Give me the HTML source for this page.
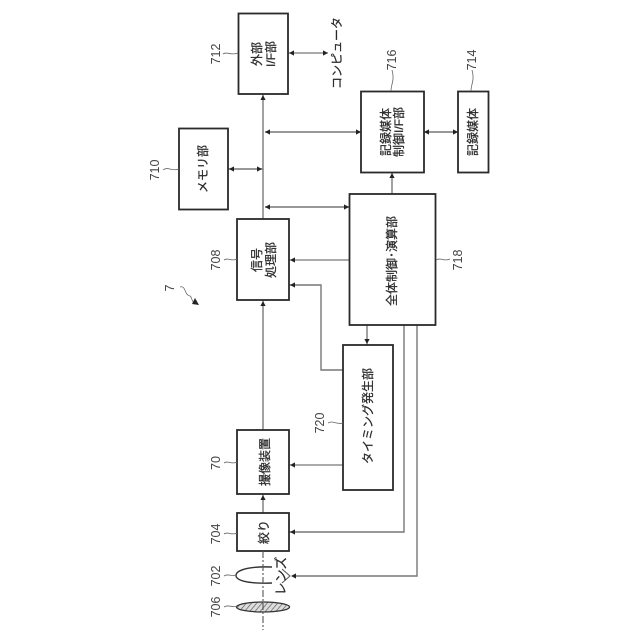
<!DOCTYPE html>
<html><head><meta charset="utf-8"><style>
html,body{margin:0;padding:0;background:#fff}
svg{display:block}
text{font-family:"Liberation Sans","Noto Sans CJK JP",sans-serif;fill:#2a2a2a;text-anchor:middle;dominant-baseline:central}
.j{font-size:12px}
.j text{stroke:#2a2a2a;stroke-width:.25}
.n{font-size:12.500px}
.n text{fill:#444}
rect{fill:#fff;stroke:#2a2a2a;stroke-width:1.8}
.l{fill:none;stroke:#555;stroke-width:1.1}
.g{fill:none;stroke:#777;stroke-width:1.4}
.t{fill:none;stroke:#666;stroke-width:.8}
.a{fill:#222;stroke:none}
</style></head><body>
<svg width="640" height="640" viewBox="0 0 640 640" xmlns="http://www.w3.org/2000/svg">
<defs>
<g id="U"><path class="a" d="M0 0L-2.6 5H2.6Z"/></g>
<g id="D"><path class="a" d="M0 0L-2.6 -5H2.6Z"/></g>
<g id="L"><path class="a" d="M0 0L5 -2.6V2.6Z"/></g>
<g id="R"><path class="a" d="M0 0L-5 -2.6V2.6Z"/></g>
<pattern id="h" width="4" height="4" patternUnits="userSpaceOnUse" patternTransform="rotate(40)"><rect width="4" height="4" style="fill:#ddd;stroke:none"/><line x1="0" y1="0" x2="0" y2="4" stroke="#555" stroke-width="1.3"/></pattern>
</defs>

<!-- connectors -->
<path class="l" d="M263 94V219M263 300V430M263 494V513"/>
<path class="l" d="M288 53H328"/><use href="#L" x="289" y="53"/><use href="#R" x="328" y="53"/>
<path class="g" d="M265 132H361"/><use href="#L" x="265" y="132"/><use href="#R" x="361" y="132"/>
<path class="g" d="M424 132H458"/><use href="#L" x="424" y="132"/><use href="#R" x="458" y="132"/>
<path class="g" d="M228 169H263"/><use href="#L" x="229" y="169"/><use href="#R" x="262" y="169"/>
<path class="g" d="M265 207H349"/><use href="#L" x="265" y="207"/><use href="#R" x="349" y="207"/>
<use href="#U" x="263" y="95"/>
<path class="l" d="M392 194V172"/><use href="#U" x="392" y="173"/>
<path class="l" d="M349 260H289"/><use href="#L" x="290" y="260"/>
<path class="g" d="M343 370H321V285H289"/><use href="#L" x="290" y="285"/>
<use href="#U" x="263" y="301"/>
<path class="l" d="M367 325V345"/><use href="#D" x="367" y="344"/>
<path class="l" d="M343 465H289"/><use href="#L" x="290" y="465"/>
<use href="#U" x="263" y="495"/>
<path class="g" d="M404 325V532H289"/><use href="#L" x="290" y="532"/>
<path class="g" d="M417 325V576H293"/><use href="#L" x="291" y="576"/>
<path d="M282 569L290 576L282 583" fill="none" stroke="#555" stroke-width="1"/>

<!-- boxes -->
<rect x="238.500" y="13.500" width="49.500" height="80.500"/>
<rect x="361" y="91.500" width="63" height="81"/>
<rect x="458" y="91.500" width="30.500" height="81"/>
<rect x="179" y="128.500" width="49" height="81"/>
<rect x="349.500" y="194" width="86" height="131"/>
<rect x="237" y="219" width="52" height="81"/>
<rect x="343" y="345" width="50" height="145"/>
<rect x="237" y="430" width="52" height="64"/>
<rect x="237" y="513" width="52" height="38"/>

<!-- lenses -->
<path d="M272 567C246 566 236 571 236 575.500C236 580 246 584 272 583" fill="none" stroke="#333" stroke-width="1.4"/>
<ellipse cx="263" cy="607" rx="26.500" ry="5" fill="url(#h)" stroke="#333" stroke-width="1.3"/>
<path class="l" d="M263 551V630" stroke-dasharray="7 2 2 2"/>

<!-- box labels -->
<g class="j">
<text transform="translate(257 54) rotate(-90)">外部</text>
<text transform="translate(271 54) rotate(-90)">I/F部</text>
<text transform="translate(386 132) rotate(-90)">記録媒体</text>
<text transform="translate(399 132) rotate(-90)">制御I/F部</text>
<text transform="translate(473 132) rotate(-90)">記録媒体</text>
<text transform="translate(203 169) rotate(-90)">メモリ部</text>
<text transform="translate(392 261) rotate(-90)">全体制御･演算部</text>
<text transform="translate(257 260) rotate(-90)">信号</text>
<text transform="translate(271 260) rotate(-90)">処理部</text>
<text transform="translate(368 416) rotate(-90)">タイミング発生部</text>
<text transform="translate(265 462) rotate(-90)">撮像装置</text>
<text transform="translate(264 532) rotate(-90)">絞り</text>
<text transform="translate(281 576) rotate(-90)" style="font-size:13px">レンズ</text>
<text transform="translate(337 53) rotate(-90)">コンピュータ</text>
</g>

<!-- reference numerals -->
<g class="n">
<text transform="translate(216 54) rotate(-90)">712</text>
<text transform="translate(392 60) rotate(-90)">716</text>
<text transform="translate(472 60) rotate(-90)">714</text>
<text transform="translate(155 170) rotate(-90)">710</text>
<text transform="translate(216 260) rotate(-90)">708</text>
<text transform="translate(458 260) rotate(-90)">718</text>
<text transform="translate(320 423) rotate(-90)">720</text>
<text transform="translate(216 463) rotate(-90)">70</text>
<text transform="translate(216 534) rotate(-90)">704</text>
<text transform="translate(216 576) rotate(-90)">702</text>
<text transform="translate(216 607) rotate(-90)">706</text>
<text transform="translate(170 288) rotate(-90)">7</text>
</g>

<!-- leaders -->
<g class="t">
<path d="M223 54C227 51 231 56 238 53"/>
<path d="M391 91C391 84 395 80 392 70"/>
<path d="M471 91C471 84 475 80 472 70"/>
<path d="M163 170C168 166 172 172 179 169"/>
<path d="M224 260C228 257 232 262 237 259"/>
<path d="M436 260C441 257 444 262 450 259"/>
<path d="M328 423C333 420 337 425 343 423"/>
<path d="M224 463C228 460 232 465 237 462"/>
<path d="M224 534C228 531 232 536 237 533"/>
<path d="M224 576C228 573 232 577 236 575"/>
<path d="M224 607C228 604 232 608 237 606"/>
<path d="M180 287C186 285 184 295 190 296C192 297 191 300 194 303"/>
</g>
<path class="a" d="M199 305L192 304L195 298Z"/>
</svg>
</body></html>
